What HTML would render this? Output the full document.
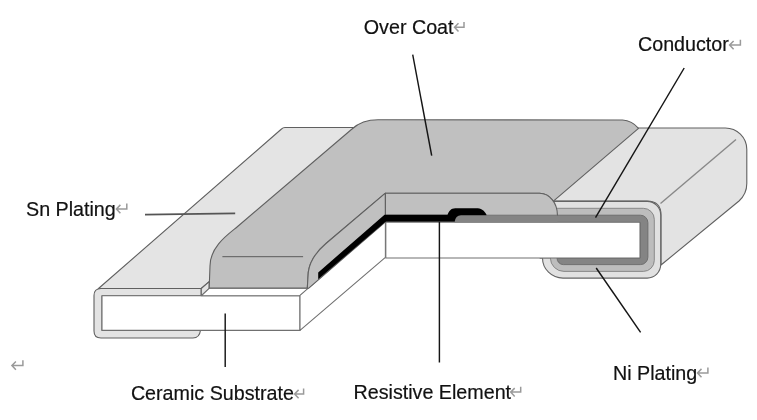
<!DOCTYPE html>
<html><head><meta charset="utf-8">
<style>
html,body{margin:0;padding:0;background:#fff;}
body{width:757px;height:420px;overflow:hidden;position:relative;font-family:"Liberation Sans",sans-serif;}
svg{position:absolute;left:0;top:0;}
.t{font-family:"Liberation Sans",sans-serif;font-size:19.7px;fill:#111;stroke:#111;stroke-width:0.2px;}
svg{will-change:transform;}
</style></head><body>
<svg width="757" height="420" viewBox="0 0 757 420">
<g stroke-linejoin="round">
<!-- right terminal top/end face -->
<path d="M600 128 L725 128 A21.5 21.5 0 0 1 746.8 149.5 L746.8 183.6 Q746.8 194 739 201 L661 265 L661 215 Q661 201 647 201 L540 201 Z" fill="#e3e3e3" stroke="#606060" stroke-width="1.1"/>
<line x1="736" y1="139.5" x2="660.5" y2="203.5" stroke="#888" stroke-width="1.4"/>
<!-- right C: Sn outer -->
<path d="M540 201.4 H647.2 A13.5 13.5 0 0 1 660.7 214.9 V264.6 A13.5 13.5 0 0 1 647.2 278.1 H563 A20.5 20.1 0 0 1 542.5 258 H540 V201.4 Z" fill="#e1e1e1" stroke="#646464" stroke-width="1.1"/>
<!-- Ni -->
<path d="M540 208.3 H643.3 A11 11 0 0 1 654.3 219.3 V260.4 A11 11 0 0 1 643.3 271.4 H564 A13.6 13.4 0 0 1 550.4 258 H540 Z" fill="#bdbdbd" stroke="#808080" stroke-width="0.9"/>
<!-- conductor -->
<path d="M455 215.2 H640.4 A7.5 7.5 0 0 1 647.9 222.7 V257.1 A7.5 7.5 0 0 1 640.4 264.6 H563.3 A6.3 6.6 0 0 1 557 258 H640 V222.8 H455 Z" fill="#848484" stroke="#6a6a6a" stroke-width="0.9"/>
<!-- left Sn top face -->
<path d="M98.5 288.5 L281.5 129 Q283 127.5 285 127.5 L360 127.5 L209.2 281.7 L201.25 288.5 Z" fill="#e4e4e4" stroke="#606060" stroke-width="1.1"/>
<!-- left C plating -->
<path d="M201.25 288.5 H101 Q94 288.5 94 295.5 V331 Q94 338 101 338 H193 Q199.5 338 200.5 330.3 H102 V295.8 H201.25 Z" fill="#e3e3e3" stroke="#606060" stroke-width="1.1"/>
<!-- bevel -->
<path d="M201.25 288.5 L209.2 281.7 L209.2 288.3 L201.25 295.8 Z" fill="#e3e3e3" stroke="#606060" stroke-width="1.1"/>
<!-- ceramic front -->
<rect x="102" y="295.8" width="198" height="34.6" fill="#fff" stroke="#707070" stroke-width="1.1"/>
<!-- ceramic top strip -->
<path d="M209.2 288.3 L308.5 288.3 L300 295.8 L201.25 295.8 Z" fill="#fff" stroke="#707070" stroke-width="1.1"/>
<!-- ceramic side face -->
<path d="M300 295.3 L385.4 221 L385.4 257.3 L300 330.3 Z" fill="#fff" stroke="#707070" stroke-width="1.1"/>
<!-- ceramic back face -->
<rect x="385.8" y="222.2" width="254.2" height="35.8" fill="#fff" stroke="#707070" stroke-width="1.1"/>
<!-- overcoat top face -->
<path d="M209.2 288 L210 266 C210 246 229.6 233.3 237.6 226.5 L352 129 Q362 119.8 378 119.8 L622.5 120 Q632 120.5 638.5 128.3 L553.4 201.2 A17.9 21.6 0 0 0 539.5 193.2 L385.4 193.2 L326 243.5 C316 252 310 260 308.3 272 L307.3 288 Z" fill="#c0c0c0" stroke="#606060" stroke-width="1.1"/>
<!-- overcoat side cut -->
<path d="M385.4 193.2 L326 243.5 C316 252 310 260 308.3 272 L307.3 288.1 L308.5 288.3 L385.5 221.8 Z" fill="#c0c0c0" stroke="#606060" stroke-width="1.1"/>
<!-- overcoat back cut -->
<path d="M385.4 193.2 L539.5 193.2 A17.9 21.6 0 0 1 557.4 214.8 L557.4 215.4 L385.4 215.4 Z" fill="#c0c0c0" stroke="#606060" stroke-width="1.1"/>
<!-- resistive element -->
<path d="M318.2 272.4 L384.5 214.8 L447.5 214.8 C450 209 452 208.3 457 208.3 L476 208.3 C481 208.3 484 210 486.5 214.8 L486.5 221.8 L385.5 221.8 L318.2 279.3 Z" fill="#000"/>
<!-- conductor under overcoat -->
<path d="M454.5 222.2 Q455.5 215.2 461 215.2 H557.4 V222.2 Z" fill="#848484"/>
<!-- midline on overcoat -->
<line x1="222.4" y1="256.7" x2="303.1" y2="256.7" stroke="#5a5a5a" stroke-width="1"/>
</g>
<!-- leaders -->
<line x1="145" y1="214.6" x2="235.2" y2="213.3" stroke="#555" stroke-width="1.7"/>
<g stroke="#151515" stroke-width="1.45" fill="none">
<line x1="412.7" y1="54.6" x2="431.7" y2="155.7"/>
<line x1="684.2" y1="68" x2="595.5" y2="217.7"/>
<line x1="225.2" y1="313.5" x2="225.2" y2="367"/>
<line x1="439.4" y1="221.8" x2="439.4" y2="362.5"/>
<line x1="596.2" y1="268" x2="640.6" y2="332.4"/>
</g>
<g stroke="#9a9a9a" stroke-width="1.5" fill="none" stroke-linecap="butt">
<path d="M464 21.9 V27.2 H454.5 M458.5 23.2 L454.5 27.2 L458.5 31.5"/>
<path d="M740.4 39.7 V45 H729.6 M733.6 41.0 L729.6 45 L733.6 49.3"/>
<path d="M126.8 203.6 V208.9 H116.4 M120.4 204.9 L116.4 208.9 L120.4 213.2"/>
<path d="M303.6 388.6 V393.9 H294.6 M298.6 389.9 L294.6 393.9 L298.6 398.2"/>
<path d="M520.7 386.8 V392.1 H510.7 M514.7 388.1 L510.7 392.1 L514.7 396.4"/>
<path d="M707.9 367.6 V372.9 H697.5 M701.5 368.9 L697.5 372.9 L701.5 377.2"/>
<path d="M22.9 360.2 V365.5 H11.9 M15.9 361.5 L11.9 365.5 L15.9 369.8"/>
</g>
<!-- labels -->
<text class="t" x="363.8" y="34.3">Over Coat</text>
<text class="t" x="638.0" y="51.1">Conductor</text>
<text class="t" x="26.0" y="215.7">Sn Plating</text>
<text class="t" x="130.9" y="399.8">Ceramic Substrate</text>
<text class="t" x="353.5" y="399.1">Resistive Element</text>
<text class="t" x="613.0" y="380.4">Ni Plating</text>
</svg>
</body></html>
